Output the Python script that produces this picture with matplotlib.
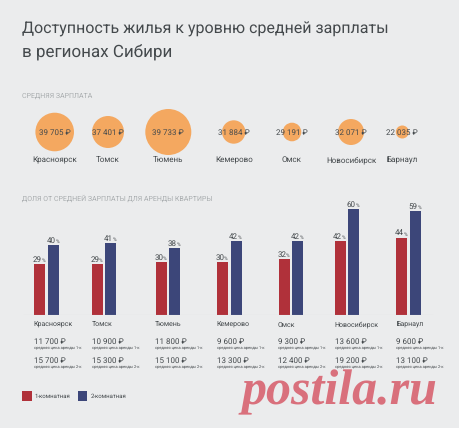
import matplotlib
matplotlib.use('Agg')
import matplotlib.pyplot as plt

plt.rcParams['font.family'] = ['Roboto', 'DejaVu Sans']
plt.rcParams['text.hinting'] = 'no_hinting'
plt.rcParams['text.hinting_factor'] = 1

# Data
cities = ['Красноярск', 'Томск', 'Тюмень', 'Кемерово', 'Омск', 'Новосибирск', 'Барнаул']
salary = [39705, 37401, 39733, 31884, 29191, 32071, 22035]
share_1room = [29, 29, 30, 30, 32, 42, 44]
share_2room = [40, 41, 38, 42, 42, 60, 59]
price_1room = [11700, 10900, 11800, 9600, 9300, 13600, 9600]
price_2room = [15700, 15300, 15100, 13300, 12400, 19200, 13100]

# Layout, all in pixels of the 460x428 picture
W, H = 460, 428
bubble_x = [54.7, 108, 168.3, 233.7, 292, 351, 402.3]
bubble_r = [19.3, 16, 23, 11.7, 9.3, 13, 6.5]
bubble_y = 132
red_x = [34.3, 91.7, 155.7, 216.7, 278.7, 334.7, 396.3]
blue_x = [48, 105.3, 169, 230.7, 292.3, 348, 410]
text_x = [33.7, 91.7, 155.3, 216.7, 278, 334.7, 396]
bar_w = 11
base_y = 315
px_per_pct = 1.76

bg = '#ebeced'
red = '#b0313a'
blue = '#3c4679'
orange = '#f4a860'
dark = '#44494c'
grey = '#a9adaf'


def money(v):
    return f'{v:,}'.replace(',', ' ') + ' ₽'


fig = plt.figure(figsize=(W / 100, H / 100), dpi=100, facecolor=bg)

# Pixel axes for the texts and bubbles
ax = fig.add_axes([0, 0, 1, 1])
ax.set_xlim(0, W)
ax.set_ylim(H, 0)
ax.axis('off')

ax.text(22, 33.5, 'Доступность жилья к уровню средней зарплаты', fontsize=11.5, color=dark)
ax.text(22, 57.5, 'в регионах Сибири', fontsize=12.4, color=dark)

ax.text(22, 98, 'СРЕДНЯЯ ЗАРПЛАТА', fontsize=5.2, color=grey)
ax.text(22, 201, 'ДОЛЯ ОТ СРЕДНЕЙ ЗАРПЛАТЫ ДЛЯ АРЕНДЫ КВАРТИРЫ', fontsize=5.2, color=grey)

# Bubbles
sizes = [(2 * r * 72 / 100) ** 2 for r in bubble_r]
ax.scatter(bubble_x, [bubble_y] * len(cities), s=sizes, color=orange, linewidths=0)
for x, v, name in zip(bubble_x, salary, cities):
    ax.text(x, bubble_y + 2.6, money(v), fontsize=5.5, color=dark, ha='center')
    ax.text(x, 162.3, name, fontsize=5.9, color=dark, ha='center')

# Bars, y axis in percent
bar_ax = fig.add_axes([0, (H - base_y) / H, 1, 70 * px_per_pct / H])
bar_ax.set_xlim(0, W)
bar_ax.set_ylim(0, 70)
bar_ax.axis('off')
bar_ax.patch.set_alpha(0)
bar_ax.bar(red_x, share_1room, width=bar_w, align='edge', color=red)
bar_ax.bar(blue_x, share_2room, width=bar_w, align='edge', color=blue)
bar_ax.plot([24, 432], [0, 0], color='#c9cccd', lw=0.8)

for xs, vals in ((red_x, share_1room), (blue_x, share_2room)):
    for x, v in zip(xs, vals):
        bar_ax.annotate(str(v), (x + 7.5, v), xytext=(0, 1.5), textcoords='offset points',
                        fontsize=5.8, color=dark, ha='right', va='baseline')
        bar_ax.annotate('%', (x + 7.5, v), xytext=(0, 1.5), textcoords='offset points',
                        fontsize=3.4, color=dark, ha='left', va='baseline')

# Rent table under the bars
for x, name, p1, p2 in zip(text_x, cities, price_1room, price_2room):
    ax.text(x, 327, name, fontsize=5.2, color=dark)
    ax.text(x, 343.5, money(p1), fontsize=5.6, color=dark)
    ax.text(x, 349, 'средняя цена аренды 1-к', fontsize=2.9, color=dark)
    ax.text(x, 362.5, money(p2), fontsize=5.6, color=dark)
    ax.text(x, 368, 'средняя цена аренды 2-к', fontsize=2.9, color=dark)

# Legend
ax.bar([22.3], [9.4], width=9.4, bottom=391.3, align='edge', color=red)
ax.bar([77.7], [9.4], width=9.4, bottom=391.3, align='edge', color=blue)
ax.text(35, 398, '1-комнатная', fontsize=4.5, color=dark)
ax.text(91, 398, '2-комнатная', fontsize=4.5, color=dark)

# Site mark
ax.text(242, 404, 'postila.ru', fontsize=36, family='Liberation Serif', style='italic', weight='bold',
        color='#d9707c', zorder=5)

fig.savefig('out.png', dpi=100, facecolor=bg)
